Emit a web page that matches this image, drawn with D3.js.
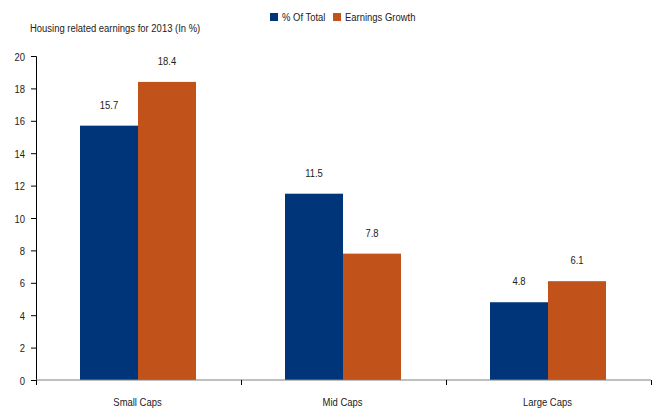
<!DOCTYPE html>
<html>
<head>
<meta charset="utf-8">
<script src="https://cdn.jsdelivr.net/npm/d3@7"></script>
<style>
  body { margin: 0; background: #fff; }
  svg text { font-family: "Liberation Sans", Arial, sans-serif; fill: #222; font-size: 11px; }
</style>
</head>
<body>
<div class="container"></div>
<script>
// ----- DATA -----
const categories = ["Small Caps", "Mid Caps", "Large Caps"];
const seriesNames = ["% Of Total", "Earnings Growth"];
const pctOfTotal = [15.7, 11.5, 4.8];
const earningsGrowth = [18.4, 7.8, 6.1];
const yTicks = [0, 2, 4, 6, 8, 10, 12, 14, 16, 18, 20];
const colors = ["#003679", "#c0521a"];

const w = 652;
const h = 408;
const squeeze = 0.86; // the source font is a narrow one

const svg = d3.select(".container")
  .append("svg")
  .attr("width", w)
  .attr("height", h);

// helper: narrow text at (x, y)
function narrowText(parent, x, y, str, anchor) {
  return parent.append("text")
    .attr("transform", "translate(" + x + "," + y + ") scale(" + squeeze + ",1)")
    .attr("text-anchor", anchor || "start")
    .text(str);
}

// ----- SCALES -----
const xScale = d3.scaleBand()
  .domain(categories)
  .range([36, 651]);

const inner = d3.scaleBand()
  .domain(seriesNames)
  .range([44, xScale.bandwidth() - 45]);

const yScale = d3.scaleLinear()
  .domain([0, 20])
  .range([380, 56]);

const rows = categories.map((c, i) => ({ cat: c, vals: [pctOfTotal[i], earningsGrowth[i]] }));

// ----- BARS -----
const groups = svg.selectAll(".grp")
  .data(rows)
  .enter()
  .append("g")
  .attr("class", "grp")
  .attr("transform", d => "translate(" + xScale(d.cat) + ",0)");

groups.selectAll("rect")
  .data(d => d.vals.map((v, j) => ({ v: v, s: seriesNames[j], j: j })))
  .enter()
  .append("rect")
  .attr("x", d => inner(d.s))
  .attr("y", d => yScale(d.v))
  .attr("width", inner.bandwidth())
  .attr("height", d => yScale(0) - yScale(d.v))
  .attr("fill", d => colors[d.j]);

// value labels
groups.each(function (d) {
  const g = d3.select(this);
  d.vals.forEach((v, j) => {
    narrowText(g, inner(seriesNames[j]) + inner.bandwidth() / 2, yScale(v) - 17, v.toFixed(1), "middle");
  });
});

// ----- AXES -----
const yAxis = d3.axisLeft(yScale).tickValues(yTicks).tickSize(5).tickPadding(5);
const gy = svg.append("g")
  .attr("transform", "translate(36,0)")
  .call(yAxis);
gy.select(".domain").attr("stroke", "#000");
gy.selectAll(".tick line").attr("stroke", "#000");
gy.selectAll(".tick text").remove();
gy.selectAll(".tick").each(function (d) {
  narrowText(d3.select(this), -11, 4, d, "end");
});

const xAxis = d3.axisBottom(d3.scaleLinear().domain([0, 3]).range([36, 651]))
  .tickValues([0, 1, 2, 3]).tickSize(5).tickFormat("");
const gx = svg.append("g")
  .attr("transform", "translate(0,380)")
  .call(xAxis);
gx.select(".domain").attr("stroke", "#808080").attr("d", "M36,0H651");
gx.selectAll(".tick line").attr("stroke", "#000");

categories.forEach(c => {
  narrowText(svg, xScale(c) + xScale.bandwidth() / 2 - 1, 406, c, "middle");
});

// ----- TITLE -----
narrowText(svg, 30, 32, "Housing related earnings for 2013 (In %)");

// ----- LEGEND -----
const legendX = [270, 333];
const legend = svg.append("g").attr("id", "legend");
seriesNames.forEach((s, i) => {
  legend.append("rect")
    .attr("x", legendX[i])
    .attr("y", 13)
    .attr("width", 8)
    .attr("height", 8)
    .attr("fill", colors[i]);
  narrowText(legend, legendX[i] + 12, 21, s);
});
</script>
</body>
</html>
